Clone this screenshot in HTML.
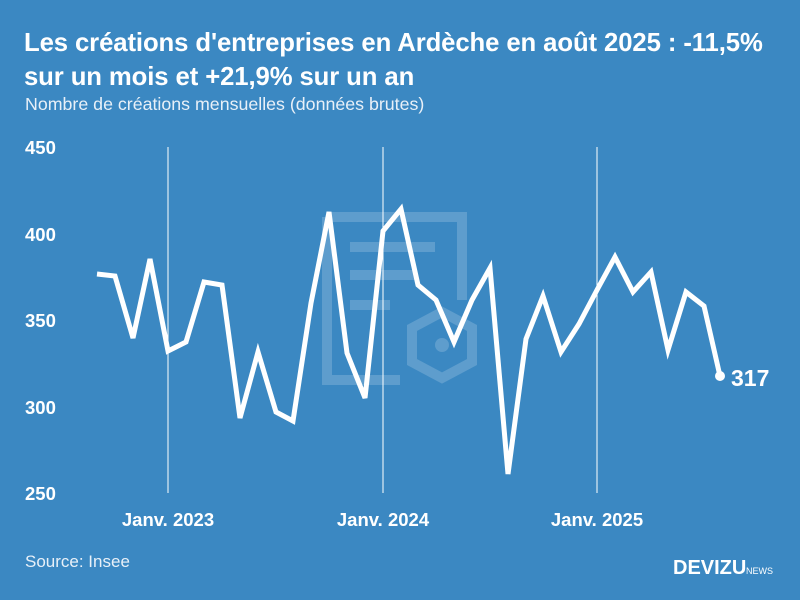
<!DOCTYPE html>
<html><head><meta charset="utf-8"><style>
html,body{margin:0;padding:0}
body{width:800px;height:600px;background:#3b88c2;overflow:hidden;position:relative;font-family:"Liberation Sans",sans-serif;color:#fff}
.t{position:absolute;left:24px;top:26px;font-size:25.7px;font-weight:bold;line-height:34px;letter-spacing:-0.1px;white-space:nowrap}
.s{position:absolute;left:25px;top:94px;font-size:17.8px;color:#e8f0f8}
.src{position:absolute;left:25px;top:552px;font-size:17px;color:#e8f0f8}
</style></head><body>
<div class="t">Les créations d'entreprises en Ardèche en août 2025 : -11,5%<br>sur un mois et +21,9% sur un an</div>
<div class="s">Nombre de créations mensuelles (données brutes)</div>
<svg width="800" height="600" style="position:absolute;left:0;top:0">
<g fill="none" stroke="#fff" stroke-opacity="0.18" stroke-width="10">
<path d="M327 217 H462 V300"/><path d="M327 217 V380 H400"/>
<path d="M350 247 H435 M350 275 H415 M350 305 H390"/>
<polygon points="442,312 472,328 472,362 442,378 412,362 412,328"/>
</g>
<circle cx="442" cy="345" r="7" fill="#fff" fill-opacity="0.18"/>
<g stroke="#fff" stroke-width="1"><line x1="168" y1="147" x2="168" y2="493"/><line x1="383" y1="147" x2="383" y2="493"/><line x1="597" y1="147" x2="597" y2="493"/></g>
<g font-size="18.5" font-weight="bold" fill="#fff">
<text x="25" y="154">450</text><text x="25" y="241">400</text><text x="25" y="327">350</text><text x="25" y="414">300</text><text x="25" y="500">250</text>
<text x="168" y="526" text-anchor="middle">Janv. 2023</text><text x="383" y="526" text-anchor="middle">Janv. 2024</text><text x="597" y="526" text-anchor="middle">Janv. 2025</text>
</g>
<polyline fill="none" stroke="#fff" stroke-width="5" stroke-linejoin="miter" points="97,274 115,276 133,338 150,259 168,351 186,342 204,282 222,285 240,418 258,352 276,412 293,421 311,303 329,212 347,353 365,398 383,231 401,209 418,285 436,300 454,342 472,300 490,268 508,474 526,339 543,296 561,352 579,324 597,290 615,257 633,292 651,272 668,350 686,292 704,306 720,376"/>
<circle cx="720" cy="376" r="5" fill="#fff"/>
<text x="731" y="386" font-size="23" font-weight="bold" fill="#fff">317</text>
<text x="673" y="574" font-size="20" font-weight="bold" fill="#fff">DEVIZU</text>
<text x="746" y="574" font-size="9" fill="#fff">NEWS</text>
</svg>
<div class="src">Source: Insee</div>
</body></html>
